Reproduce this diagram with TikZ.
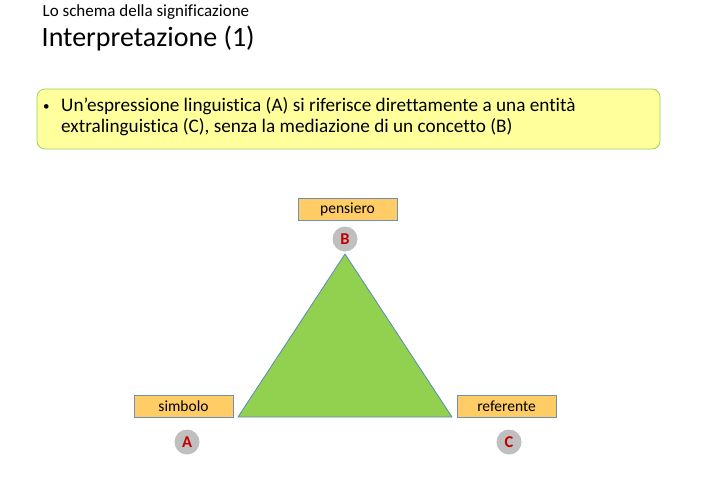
\documentclass[tikz,border=0pt]{standalone}
\usepackage{fontspec}
\setmainfont[Ligatures=CommonOff]{Carlito}
\begin{document}
\begin{tikzpicture}[x=1pt,y=-1pt,
  lbl/.style={draw=boxline,fill=boxfill,line width=0.8pt,minimum width=99pt,minimum height=22pt,inner sep=0pt,font=\fontsize{15.5}{17}\selectfont},
  letter/.style={circle,fill=circgray,minimum size=25pt,inner sep=0pt,text=letred,font=\fontsize{16.5}{18}\selectfont\bfseries},
  txt/.style={anchor=base west,inner sep=0pt}]
\definecolor{boxline}{HTML}{6F8FB5}
\definecolor{boxfill}{HTML}{FFCC66}
\definecolor{circgray}{HTML}{BFBFBF}
\definecolor{letred}{HTML}{C00000}
\definecolor{trifill}{HTML}{92D050}
\definecolor{triline}{HTML}{5A8AB8}
\definecolor{noteyel}{HTML}{FFFF9C}
\definecolor{notegrn}{HTML}{9BD160}
\useasboundingbox[fill=white] (0,0) rectangle (708,483);
\node[txt,font=\fontsize{17}{20}\selectfont] (sub) at (42.5,16.5) {Lo schema della significazione};
\node[txt,font=\fontsize{28}{32}\selectfont] (title) at (41.5,46.5) {Interpretazione (1)};
\draw[draw=notegrn,fill=noteyel,line width=0.8pt,rounded corners=8pt] (37,89) rectangle (660,149);
\node[txt,font=\fontsize{13}{16}\selectfont] (bul) at (43,110) {\textbullet};
\node[txt,font=\fontsize{19.2}{22}\selectfont] (note1) at (61,111) {Un’espressione linguistica (A) si riferisce direttamente a una entità};
\node[txt,font=\fontsize{19.2}{22}\selectfont] (note2) at (61,132) {extralinguistica (C), senza la mediazione di un concetto (B)};
\coordinate (apex) at (345,254);
\coordinate (bl) at (238,417);
\coordinate (br) at (452,417);
\draw[fill=trifill,draw=triline,line width=0.8pt,line join=round] (apex) -- (bl) -- (br) -- cycle;
\node[lbl] (pens) at (347.5,209) {pensiero};
\node[lbl] (simb) at (183.5,406) {simbolo};
\node[lbl] (ref) at (506.5,406) {referente};
\node[letter] (B) at (345,239) {B};
\node[letter] (A) at (187,442) {A};
\node[letter] (C) at (509,442) {C};
\end{tikzpicture}
\end{document}
